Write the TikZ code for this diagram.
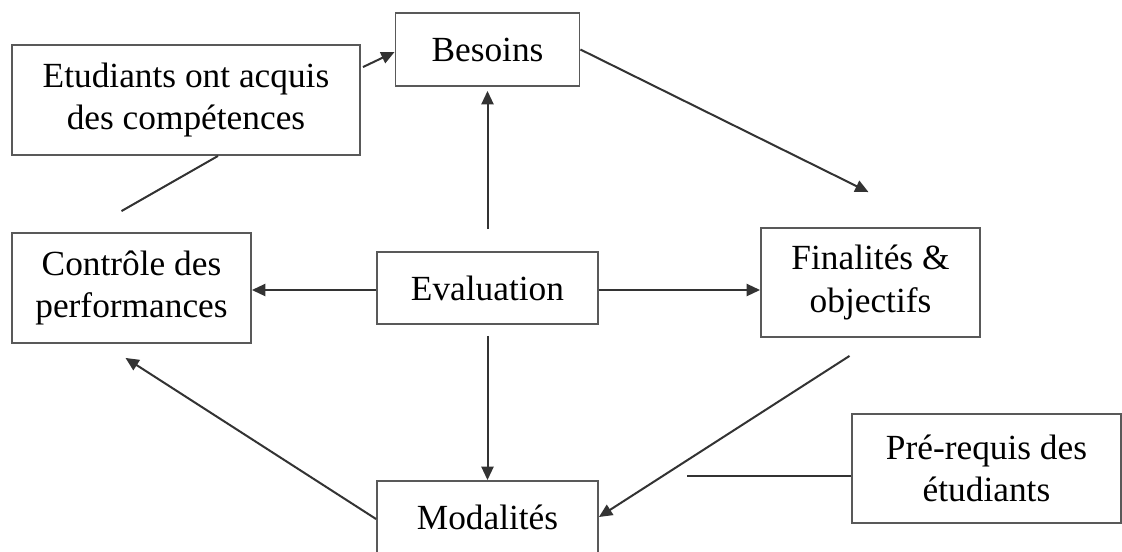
\documentclass[tikz,border=0pt]{standalone}
\usepackage{fontspec}
\setmainfont{Liberation Serif}
\usetikzlibrary{arrows.meta,calc}

\tikzset{
  box/.style={draw=black!65, line width=1.4pt, fill=white, align=center, inner sep=0pt,
    font=\fontsize{26.5}{32}\selectfont},
  link/.style={draw=black!80, line width=1.5pt},
  arr/.style={link, -{Triangle[length=10pt,width=9pt]}},
}

\begin{document}
\begin{tikzpicture}[x=0.75pt,y=0.75pt,yscale=-1]
\useasboundingbox (0,0) rectangle (1122,551);

%Shape: Rectangle
\node [box, minimum width=138pt, minimum height=54.75pt] (besoins) at (487.5,49.5) {Besoins};
%Shape: Rectangle
\node [box, minimum width=261pt, minimum height=82.5pt] (etudiants) at (186,100) {Etudiants ont acquis\\des compétences};
%Shape: Rectangle
\node [box, minimum width=179.25pt, minimum height=82.5pt] (controle) at (131.5,288) {Contrôle des\\performances};
%Shape: Rectangle
\node [box, minimum width=165.75pt, minimum height=54pt] (evaluation) at (487.5,288) {Evaluation};
%Shape: Rectangle
\node [box, minimum width=164.25pt, minimum height=81.75pt] (finalites) at (870.5,282.5) {Finalités \&\\objectifs};
%Shape: Rectangle
\node [box, minimum width=165.75pt, minimum height=54pt] (modalites) at (487.5,517) {Modalités};
%Shape: Rectangle
\node [box, minimum width=201.75pt, minimum height=81.75pt] (prerequis) at (986.5,468.5) {Pré-requis des\\étudiants};

% free ends
\coordinate (besoinsout) at ($(finalites.north)+(-2,-35)$);
\coordinate (evalup) at ($(evaluation.north)+(0,-22)$);
\coordinate (evaldown) at ($(evaluation.south)+(0,11)$);
\coordinate (finalout) at ($(finalites.south)+(-21,18)$);
\coordinate (modalout) at ($(controle.south)+(-6,14)$);
\coordinate (etudout) at ($(controle.north)+(-10,-21)$);
\coordinate (prereqout) at ($(prerequis.west)+(-164,7.5)$);

%Straight Lines
\draw [arr] ($(etudiants.north east)+(2,23)$) -- ($(besoins.west)+(0,2.5)$);
\draw [arr] (besoins.east) -- (besoinsout);
\draw [arr] (evalup) -- ($(besoins.south)+(0,4)$);
\draw [arr] ($(evaluation.west)+(0,2)$) -- ($(controle.east)+(0,2)$);
\draw [arr] ($(evaluation.east)+(0,2)$) -- ($(evaluation.east -| finalites.west)+(0,2)$);
\draw [arr] (evaldown) -- (modalites.north);
\draw [arr] (finalout) -- (modalites.east);
\draw [arr] ($(modalites.west)+(0,2)$) -- (modalout);
\draw [link] ($(etudiants.south)+(32,0)$) -- (etudout);
\draw [link] (prereqout) -- (prereqout -| prerequis.west);

\end{tikzpicture}
\end{document}
